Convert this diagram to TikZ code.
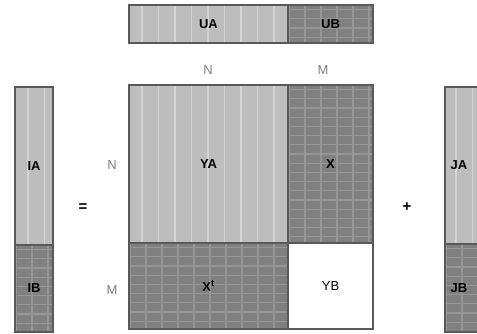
\documentclass[tikz,border=0pt]{standalone}
\usepackage{fontspec}
\setmainfont{Liberation Sans}
\begin{document}
\begin{tikzpicture}[x=1pt,y=-1pt,
  every node/.style={inner sep=0pt,outer sep=0pt},
  blk/.style={draw=black!65,line width=1.4pt,anchor=north west,font=\fontsize{13}{13}\selectfont\bfseries},
  lightblk/.style={blk,fill=black!26,
    path picture={\foreach \i in {0,...,12}
      \draw[black!17,line width=1.6pt]
        ([xshift=#1+\i*16.5pt]path picture bounding box.north west) --
        ([xshift=#1+\i*16.5pt]path picture bounding box.south west);}},
  darkblk/.style={blk,fill=black!50,
    path picture={\foreach \i in {0,...,12}
      \draw[black!41,line width=1.2pt]
        ([xshift=#1+\i*16pt]path picture bounding box.north west) --
        ([xshift=#1+\i*16pt]path picture bounding box.south west);
      \foreach \j in {0,...,30}
      \draw[black!41,line width=1.2pt]
        ([yshift=-4.5pt-\j*9.2pt]path picture bounding box.north west) --
        ([yshift=-4.5pt-\j*9.2pt]path picture bounding box.north east);}},
  whiteblk/.style={blk,fill=white},
  dimlbl/.style={text=black!50,font=\fontsize{13}{13}\selectfont},
  oplbl/.style={font=\fontsize{15}{15}\selectfont\bfseries}
]
\useasboundingbox (0,0) rectangle (477,333);
% top row vector
\node[lightblk=13pt,minimum width=159pt,minimum height=38pt] (UA) at (129,5) {UA};
\node[darkblk=1pt,minimum width=85pt,minimum height=38pt] (UB) at (288,5) {UB};
\node[dimlbl] (N1) at (208,70) {N};
\node[dimlbl] (M1) at (323,70) {M};
% left vector
\node[lightblk=13pt,minimum width=38pt,minimum height=158pt] (IA) at (15,87) {IA};
\node[darkblk=1pt,minimum width=38pt,minimum height=87pt] (IB) at (15,245) {IB};
\node[oplbl] (eq) at (83,208) {=};
\node[dimlbl] (N2) at (112,165) {N};
\node[dimlbl] (M2) at (112,290) {M};
% matrix
\node[lightblk=13pt,minimum width=159pt,minimum height=158pt] (YA) at (129,85) {YA};
\node[darkblk=1pt,minimum width=85pt,minimum height=158pt] (X) at (288,85) {X};
\node[darkblk=1pt,minimum width=159pt,minimum height=86pt] (Xt) at (129,243) {X\textsuperscript{t}};
\node[whiteblk,minimum width=85pt,minimum height=86pt,font=\fontsize{13}{13}\selectfont] (YB) at (288,243) {YB};
% plus and right vector
\node[oplbl] (plus) at (407,207) {+};
\node[lightblk=11pt,minimum width=38pt,minimum height=157pt] (JA) at (445,87) {\hspace{-10pt}JA};
\node[darkblk=1pt,minimum width=38pt,minimum height=88pt] (JB) at (445,244) {\hspace{-10pt}JB};
\end{tikzpicture}
\end{document}
